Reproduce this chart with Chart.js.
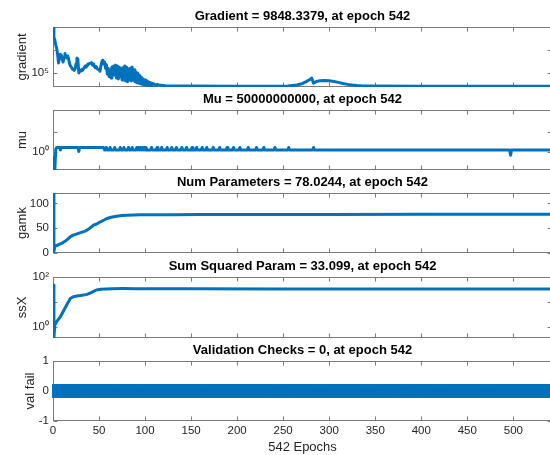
<!DOCTYPE html>
<html>
<head>
<meta charset="utf-8">
<script src="https://cdn.jsdelivr.net/npm/chart.js@4.4.1/dist/chart.umd.min.js"></script>
<style>
  html, body { margin: 0; padding: 0; background: #fff; overflow: hidden; }
  body { width: 550px; height: 455px; position: relative; }
  canvas { position: absolute; left: 0; }
</style>
</head>
<body>
<canvas id="gradChart" width="552" height="87" style="top:8px"></canvas>
<canvas id="muChart" width="552" height="87" style="top:91px"></canvas>
<canvas id="gamkChart" width="552" height="87" style="top:174px"></canvas>
<canvas id="ssxChart" width="552" height="88" style="top:258px"></canvas>
<canvas id="valChart" width="552" height="113" style="top:342px"></canvas>
<script>
// epoch axis
const lastEpoch = 542;
const xTicks = [0, 50, 100, 150, 200, 250, 300, 350, 400, 450, 500];

// gradient (log)
const gradEpochs = [0,1,2,3,4,5,6,7,8,9,
  10,11,12,13,14,15,16,17,18,19,
  20,21,22,23,24,25,26,27,28,29,
  30,31,32,33,34,35,36,37,38,40,
  42,43,44,45,46,47,48,50,51,52,
  53,54,55,56,57,58,59,60,61,62,
  63,64,65,66,67,68,69,70,71,72,
  73,74,75,76,77,78,79,80,81,82,
  83,84,85,86,87,88,89,90,91,92,
  93,94,95,96,97,98,99,100,101,102,
  103,104,105,106,107,108,110,111,113,115,
  118,122,130,150,200,255,265,270,275,279,
  281,283,286,290,295,300,305,310,315,320,
  325,330,335,350,400,450,500,542];
const gradValues = [1.0e7,3.5e6,2.7e6,1.6e6,1.2e6,6.5e5,2.7e5,4.5e5,6.5e5,6.0e5,
  4.0e5,3.0e5,5.0e5,7.0e5,5.0e5,4.5e5,5.5e5,4.0e5,2.5e5,2.0e5,
  1.8e5,1.5e5,1.4e5,1.3e5,1.5e5,2.5e5,4.5e5,4.0e5,1.0e5,1.3e5,
  1.2e5,1.4e5,1.3e5,1.5e5,1.7e5,2.0e5,1.8e5,2.2e5,2.4e5,2.6e5,
  2.8e5,2.2e5,2.5e5,1.9e5,1.7e5,1.9e5,1.5e5,1.4e5,1.2e5,2.0e5,
  3.0e5,3.6e5,2.5e5,3.0e5,1.6e5,2.3e5,9.0e4,1.6e5,7.0e4,1.4e5,
  6.0e4,1.8e5,1.0e5,2.0e5,8.0e4,2.2e5,6.0e4,2.0e5,5.5e4,1.8e5,
  7.0e4,1.6e5,5.0e4,1.7e5,6.0e4,2.0e5,4.5e4,1.8e5,4.2e4,1.5e5,
  5.0e4,1.6e5,4.5e4,1.8e5,5.0e4,1.4e5,4.2e4,1.1e5,3.8e4,1.0e5,
  3.6e4,8.0e4,3.4e4,6.5e4,3.2e4,5.5e4,3.1e4,5.0e4,3.0e4,4.5e4,
  2.9e4,4.1e4,2.9e4,3.8e4,2.8e4,3.5e4,3.3e4,2.8e4,3.2e4,3.0e4,
  2.9e4,2.8e4,2.75e4,2.7e4,2.68e4,2.7e4,3.0e4,3.4e4,4.2e4,5.2e4,
  6.0e4,3.6e4,4.3e4,4.6e4,4.7e4,4.6e4,4.3e4,3.9e4,3.5e4,3.2e4,
  3.0e4,2.85e4,2.78e4,2.7e4,2.66e4,2.65e4,2.65e4,2.65e4];
const gradTicks = [1e5, 1e6];
const gradTickLabels = ['10⁵', ''];

// mu (log)
const muEpochs = [0,1,2,3,4,7,8,9,27,28,
  29,55,56,57,58,59,61,62,63,66,
  67,68,72,73,74,76,77,78,81,82,
  83,85,86,87,90,91,92,93,94,95,
  96,97,98,99,100,101,102,106,107,108,
  112,113,114,117,118,119,123,124,125,128,
  129,130,133,134,135,139,140,141,144,145,
  146,150,151,152,155,156,157,161,162,163,
  166,167,168,173,174,175,180,181,182,188,
  189,190,195,196,197,202,203,204,211,212,
  213,220,221,222,228,229,230,240,241,242,
  255,256,257,282,283,284,496,497,498,542];
const muValues = [0.5,0.12,0.12,1.3,1.6,1.6,1.2,1.6,1.6,1.0,
  1.6,1.6,1.2,1.2,1.6,1.2,1.2,1.6,1.2,1.2,
  1.6,1.2,1.2,1.6,1.2,1.2,1.6,1.2,1.2,1.6,
  1.2,1.2,1.6,1.2,1.2,1.6,1.2,1.6,1.2,1.6,
  1.2,1.6,1.2,1.6,1.2,1.6,1.2,1.2,1.6,1.2,
  1.2,1.6,1.2,1.2,1.6,1.2,1.2,1.6,1.2,1.2,
  1.6,1.2,1.2,1.6,1.2,1.2,1.6,1.2,1.2,1.6,
  1.2,1.2,1.6,1.2,1.2,1.6,1.2,1.2,1.6,1.2,
  1.2,1.6,1.2,1.2,1.6,1.2,1.2,1.6,1.2,1.2,
  1.6,1.2,1.2,1.6,1.2,1.2,1.6,1.2,1.2,1.6,
  1.2,1.2,1.6,1.2,1.2,1.6,1.2,1.2,1.6,1.2,
  1.2,1.6,1.2,1.2,1.6,1.2,1.2,0.65,1.2,1.2];
const muTicks = [1, 10];
const muTickLabels = ['10⁰', ''];

// gamk
const gamkEpochs = [0,1,2,4,6,10,13,16,19,22,26,30,35,40,44,48,51,55,58,63,69,75,80,88,95,110,130,160,200,300,400,542];
const gamkValues = [121,3,13,15,17,20,23.5,28,33,36,38.5,41,44,50,56,59,62.5,66,69,72,74,75.5,76.2,76.8,77,77.2,77.3,77.4,77.5,77.7,77.9,78.02];
const gamkTicks = [0, 50, 100];
const gamkTickLabels = ['0', '50', '100'];

// ssX (log)
const ssxEpochs = [0,1,2,4,8,13,16,19,22,26,30,37,42,47,52,58,65,75,90,110,150,250,400,542];
const ssxValues = [48,0.36,1.2,1.6,2.5,5.5,9,13.9,16,17.2,18,20,24,30,32,33,34,34.3,34,33.7,33.4,33.2,33.1,33.099];
const ssxTicks = [1, 10, 100];
const ssxTickLabels = ['10⁰', '', '10²'];

// val fail: 0 at every epoch
const valFail = new Array(lastEpoch + 1).fill(0);
const valTicks = [-1, 0, 1];
const valTickLabels = ['-1', '0', '1'];

const titles = [
  'Gradient = 9848.3379, at epoch 542',
  'Mu = 50000000000, at epoch 542',
  'Num Parameters = 78.0244, at epoch 542',
  'Sum Squared Param = 33.099, at epoch 542',
  'Validation Checks = 0, at epoch 542'
];
const yLabels = ['gradient', 'mu', 'gamk', 'ssX', 'val fail'];
const xLabel = '542 Epochs';

const BLUE = '#0072bd';
const FONT = "'Liberation Sans', Arial, Helvetica, sans-serif";
const TEXT = '#262626';
const FRAME = '#7a7a7a';

function toPoints(xs, ys) {
  return xs.map((x, i) => ({ x: x, y: ys[i] }));
}

// MATLAB style box with inward ticks
const matlabBox = {
  id: 'matlabBox',
  beforeDatasetsDraw(chart) {
    const { ctx, chartArea: a, scales } = chart;
    const l = Math.round(a.left) + 0.5, r = Math.round(a.right) - 0.5;
    const t = Math.round(a.top) + 0.5, b = Math.round(a.bottom) - 0.5;
    ctx.save();
    ctx.strokeStyle = FRAME;
    ctx.lineWidth = 1;
    ctx.beginPath();
    ctx.rect(l, t, r - l, b - t);
    xTicks.forEach(v => {
      const px = Math.round(scales.x.getPixelForValue(v)) + 0.5;
      ctx.moveTo(px, t); ctx.lineTo(px, t + 4);
      ctx.moveTo(px, b); ctx.lineTo(px, b - 4);
    });
    scales.y.ticks.forEach(tk => {
      const py = Math.round(scales.y.getPixelForValue(tk.value)) + 0.5;
      ctx.moveTo(l, py); ctx.lineTo(l + 4, py);
      ctx.moveTo(r, py); ctx.lineTo(r - 4, py);
    });
    ctx.stroke();
    ctx.restore();
  }
};

function yScale(type, min, max, ticks, labels, label, labelPad) {
  return {
    type: type, min: min, max: max, bounds: 'data',
    afterBuildTicks: s => { s.ticks = ticks.map(v => ({ value: v })); },
    afterFit: s => { s.width = 53; s.paddingTop = 0; s.paddingBottom = 0; },
    grid: { display: false, drawTicks: false },
    border: { display: false },
    ticks: {
      autoSkip: false, padding: 4, color: TEXT,
      font: { family: FONT, size: 11.5 },
      callback: (v, i) => labels[i]
    },
    title: {
      display: true, text: label, color: TEXT,
      font: { family: FONT, size: 13 },
      padding: { top: labelPad, bottom: 0 }
    }
  };
}

function xScale(show) {
  return {
    type: 'linear', min: 0, max: lastEpoch, bounds: 'data', display: show,
    afterBuildTicks: s => { s.ticks = xTicks.map(v => ({ value: v })); },
    afterFit: s => { if (show) { s.height = 34; } s.paddingLeft = 0; s.paddingRight = 0; },
    grid: { display: false, drawTicks: false },
    border: { display: false },
    ticks: {
      autoSkip: false, maxRotation: 0, padding: 3, color: TEXT,
      font: { family: FONT, size: 11.5 }
    },
    title: {
      display: show, text: xLabel, color: TEXT,
      font: { family: FONT, size: 13 },
      padding: { top: 0, bottom: 0 }
    }
  };
}

function lineSet(xs, ys) {
  return {
    data: toPoints(xs, ys),
    borderColor: BLUE, borderWidth: 3, pointRadius: 0,
    tension: 0, fill: false, borderJoinStyle: 'round'
  };
}

function makeChart(id, title, datasets, y, showX) {
  return new Chart(document.getElementById(id), {
    type: 'line',
    data: { datasets: datasets },
    options: {
      responsive: false,
      animation: false,
      events: [],
      layout: { autoPadding: false, padding: { left: 0, right: 0, top: 0, bottom: showX ? 0 : 8 } },
      plugins: {
        legend: { display: false },
        tooltip: { enabled: false },
        title: {
          display: true, text: title, fullSize: false, color: '#000',
          font: { family: FONT, size: 13, weight: 'bold', lineHeight: '16px' },
          padding: { top: 0, bottom: 3 }
        }
      },
      scales: { x: xScale(showX), y: y }
    },
    plugins: [matlabBox]
  });
}

makeChart('gradChart', titles[0], [lineSet(gradEpochs, gradValues)],
  yScale('logarithmic', 24600, 1e7, gradTicks, gradTickLabels, yLabels[0], 14.2), false);

makeChart('muChart', titles[1], [lineSet(muEpochs, muValues)],
  yScale('logarithmic', 0.119, 119, muTicks, muTickLabels, yLabels[1], 14.2), false);

makeChart('gamkChart', titles[2], [lineSet(gamkEpochs, gamkValues)],
  yScale('linear', 0, 121, gamkTicks, gamkTickLabels, yLabels[2], 14.2), false);

makeChart('ssxChart', titles[3], [lineSet(ssxEpochs, ssxValues)],
  yScale('logarithmic', 0.351, 100, ssxTicks, ssxTickLabels, yLabels[3], 14.2), false);

makeChart('valChart', titles[4], [
  {
    data: valFail.map((v, i) => ({ x: i, y: v })),
    showLine: false, pointRadius: 5.8, pointBorderWidth: 2,
    pointBackgroundColor: BLUE, pointBorderColor: BLUE,
    clip: { left: 1, top: 20, right: 20, bottom: 20 }
  },
  {
    data: [{ x: lastEpoch, y: 0 }],
    showLine: false, pointRadius: 4, pointBorderWidth: 1.5,
    pointBackgroundColor: 'rgba(0,0,0,0)', pointBorderColor: '#ff0000'
  }
], yScale('linear', -1, 1, valTicks, valTickLabels, yLabels[4], 22.7), true);
</script>
</body>
</html>
